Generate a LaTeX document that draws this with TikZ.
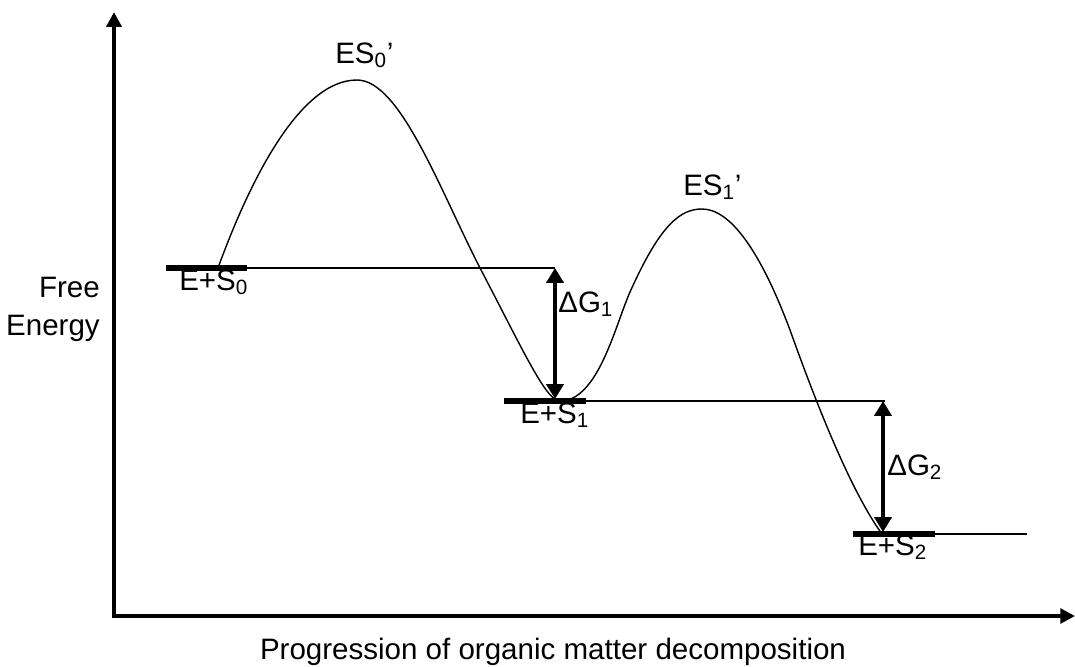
\documentclass[tikz,border=0pt]{standalone}
\usepackage{fontspec}
\setmainfont{Liberation Sans}
\usetikzlibrary{arrows.meta,positioning}
\tikzset{
      axisline/.style={
        line width=2.8pt,
        line join=miter,
        {Triangle[length=10.5pt,width=10.5pt]}-{Triangle[length=10.5pt,width=10.5pt]}
      },
      levelbar/.style={line width=3.6pt},
      levelline/.style={line width=0.8pt},
      gaparrow/.style={
        line width=2.6pt,
        {Triangle[length=10.5pt,width=12pt]}-{Triangle[length=10.5pt,width=12pt]}
      },
      profile/.style={line width=1pt},
      lbl/.style={inner sep=0pt, font=\fontsize{21}{27}\selectfont}
    }

\begin{document}
\begin{tikzpicture}[x=0.025cm,y=-0.025cm]
    \useasboundingbox (0,0) rectangle (1075,666);
    % axes
    \coordinate (origin) at (114,616);
    \coordinate (ytip) at (114,12);
    \coordinate (xtip) at (1075,616);
    \draw[axisline] (ytip) -- (origin) -- (xtip);
    % energy levels
    \coordinate (s0a) at (166,268);
    \coordinate (s0b) at (247,268);
    \coordinate (s0c) at (555,268);
    \coordinate (s1a) at (504,401);
    \coordinate (s1b) at (586,401);
    \coordinate (s1c) at (885,401);
    \coordinate (s2a) at (853,534);
    \coordinate (s2b) at (935,534);
    \coordinate (s2c) at (1027,534);
    \draw[levelbar] (s0a) -- (s0b);
    \draw[levelbar] (s1a) -- (s1b);
    \draw[levelbar] (s2a) -- (s2b);
    \draw[levelline] (s0b) -- (s0c);
    \draw[levelline] (s1b) -- (s1c);
    \draw[levelline] (s2b) -- (s2c);
    % reaction profile
    \draw[profile] (218,268) .. controls (250,180) and (300,80) .. (357,80)
      .. controls (400,80) and (440,190) .. (480,268)
      .. controls (524,352) and (546,401) .. (560,401)
      .. controls (598,401) and (615,326) .. (630,292)
      .. controls (660,225) and (680,209) .. (702,209)
      .. controls (730,209) and (760,250) .. (790,330)
      .. controls (815,400) and (850,490) .. (882,534);
    % free energy gaps
    \coordinate (g1top) at (555,268);
    \coordinate (g1bot) at (555,399);
    \coordinate (g2top) at (883,401);
    \coordinate (g2bot) at (883,532);
    \draw[gaparrow] (g1top) -- (g1bot);
    \draw[gaparrow] (g2top) -- (g2bot);
    % labels
    \node[lbl, anchor=base west] (es0) at (335,63) {ES\textsubscript{0}’};
    \node[lbl, anchor=base west] (es1) at (683,195) {ES\textsubscript{1}’};
    \node[lbl, anchor=base west] (lab0) at (179,290) {E+S\textsubscript{0}};
    \node[lbl, anchor=base west] (lab1) at (520,423) {E+S\textsubscript{1}};
    \node[lbl, anchor=base west] (lab2) at (858,555) {E+S\textsubscript{2}};
    \node[lbl, anchor=base west] (dg1) at (558,312) {ΔG\textsubscript{1}};
    \node[lbl, anchor=base west] (dg2) at (887,475) {ΔG\textsubscript{2}};
    \node[lbl, align=right, anchor=north east] (yname) at (100,277) {Free\\Energy};
    \node[lbl, anchor=base] (xname) at (553,659) {Progression of organic matter decomposition};
    \end{tikzpicture}
\end{document}
